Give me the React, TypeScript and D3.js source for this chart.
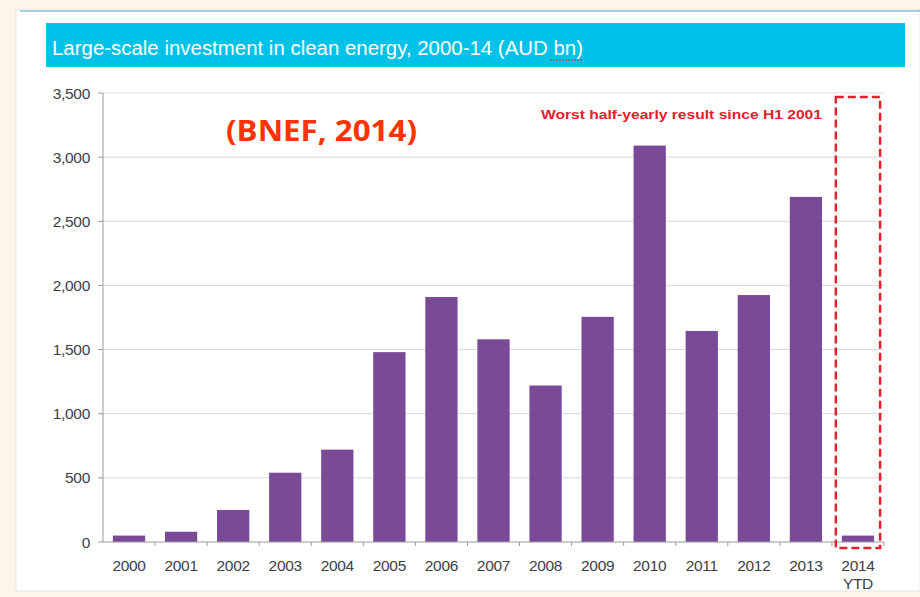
import React from "react";
import * as d3 from "d3";

const categories = ["2000","2001","2002","2003","2004","2005","2006","2007","2008","2009","2010","2011","2012","2013","2014"];
const catLabels2 = ["","","","","","","","","","","","","","","YTD"];
const values = [50, 80, 250, 540, 720, 1480, 1910, 1580, 1220, 1755, 3090, 1645, 1925, 2690, 50];
const yTicks = [0, 500, 1000, 1500, 2000, 2500, 3000, 3500];
const title = "Large-scale investment in clean energy, 2000-14 (AUD bn)";
const note = "Worst half-yearly result since H1 2001";
const source = "(BNEF, 2014)";

export default function App() {
  const W = 920, H = 597;
  const left = 103, right = 884, top = 93, bottom = 542;
  const x = d3.scaleBand().domain(categories).range([left, right]).paddingInner(0.38).paddingOuter(0.19);
  const y = d3.scaleLinear().domain([0, 3500]).range([bottom, top]);
  const fmt = d3.format(",");
  const font = "'Liberation Sans', Arial, sans-serif";
  const last = categories[categories.length - 1];
  const boxL = (x(last) as number) - 6;
  const boxR = (x(last) as number) + x.bandwidth() + 6;
  return (
    <svg width={W} height={H} style={{ position: "absolute", left: 0, top: 0 }}>
      <rect x={0} y={0} width={W} height={H} fill="#fdf4ea" />
      <rect x={16} y={10} width={W - 16} height={581} fill="#ffffff" stroke="#e6e6e6" strokeWidth={1} />
      <line x1={20} x2={W} y1={11} y2={11} stroke="#7fc6cf" strokeWidth={1.5} />
      <rect x={46} y={23} width={859} height={44} fill="#00c1e8" />
      <text x={52} y={55} fill="#ffffff" fontFamily={font} fontSize={19.5} textLength={531} lengthAdjust="spacingAndGlyphs">{title}</text>
      <line x1={550} x2={582} y1={60} y2={60} stroke="#d4332a" strokeWidth={1.2} strokeDasharray="2,1" />
      {yTicks.map((t) => (
        <g key={t}>
          {t > 0 && <line x1={left} x2={right} y1={y(t)} y2={y(t)} stroke="#d9d9d9" strokeWidth={1} />}
          <line x1={left - 5} x2={left} y1={y(t)} y2={y(t)} stroke="#9a9a9a" />
          <text x={left - 13} y={y(t) + 5.5} textAnchor="end" fontFamily={font} fontSize={15.5} fill="#404040" letterSpacing={-0.3}>{fmt(t)}</text>
        </g>
      ))}
      {values.map((v, i) => (
        <rect key={categories[i]} x={x(categories[i])} y={y(v)} width={x.bandwidth()} height={y(0) - y(v)} fill="#7a4a98" />
      ))}
      <line x1={left} x2={left} y1={top} y2={bottom} stroke="#9a9a9a" strokeWidth={1} />
      <line x1={left} x2={right} y1={bottom} y2={bottom} stroke="#9a9a9a" strokeWidth={1} />
      {categories.map((c, i) => (
        <g key={c}>
          <line x1={left + x.step() * (i + 1)} x2={left + x.step() * (i + 1)} y1={bottom} y2={bottom + 4} stroke="#9a9a9a" />
          <text x={(x(c) as number) + x.bandwidth() / 2} y={571} textAnchor="middle" fontFamily={font} fontSize={15.5} fill="#404040" letterSpacing={-0.3}>{c}</text>
          {catLabels2[i] && (
            <text x={(x(c) as number) + x.bandwidth() / 2} y={589} textAnchor="middle" fontFamily={font} fontSize={15.5} fill="#404040" letterSpacing={-0.3}>{catLabels2[i]}</text>
          )}
        </g>
      ))}
      <rect x={boxL} y={97} width={boxR - boxL} height={451} fill="none" stroke="#e3202b" strokeWidth={2.5} strokeDasharray="8,4" />
      <text x={822} y={119} textAnchor="end" fontFamily={font} fontWeight="bold" fontSize={13.5} fill="#e3202b" textLength={281} lengthAdjust="spacingAndGlyphs">{note}</text>
      <text x={226} y={141} fontFamily="'Open Sans', 'Noto Sans', sans-serif" fontWeight="bold" fontSize={28} fill="#ff3300" textLength={191} lengthAdjust="spacingAndGlyphs">{source}</text>
    </svg>
  );
}
